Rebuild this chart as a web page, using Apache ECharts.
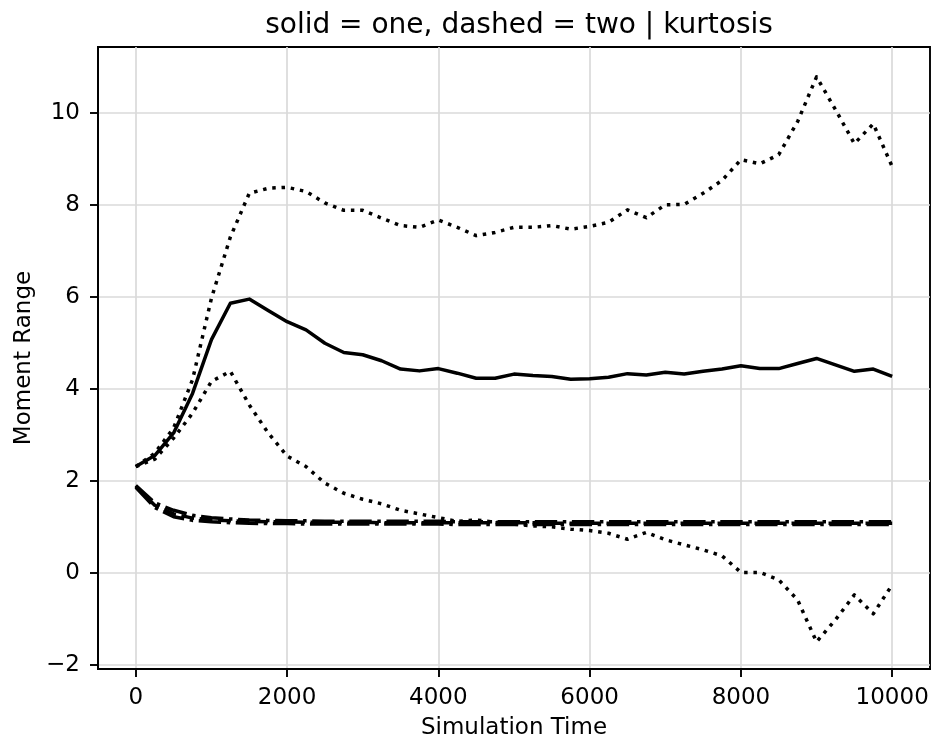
<!DOCTYPE html>
<html>
<head>
<meta charset="utf-8">
<script src="https://cdn.jsdelivr.net/npm/echarts@6/dist/echarts.min.js"></script>
<style>
html,body{margin:0;padding:0;background:#fff;}
#chart{width:931px;height:740px;}
</style>
</head>
<body>
<div id="chart"></div>
<script>
const times = [0,250,500,750,1000,1250,1500,1750,2000,2250,2500,2750,3000,3250,3500,3750,4000,4250,4500,4750,5000,5250,5500,5750,6000,6250,6500,6750,7000,7250,7500,7750,8000,8250,8500,8750,9000,9250,9500,9750,10000];

const oneMean = [2.31,2.55,3.04,3.90,5.07,5.86,5.95,5.70,5.46,5.28,4.99,4.79,4.74,4.61,4.43,4.39,4.44,4.34,4.23,4.23,4.32,4.29,4.27,4.21,4.22,4.25,4.33,4.30,4.36,4.32,4.38,4.43,4.50,4.44,4.44,4.55,4.66,4.52,4.38,4.43,4.27];
const oneUpper = [2.31,2.60,3.15,4.20,5.97,7.30,8.25,8.36,8.38,8.29,8.04,7.88,7.88,7.71,7.55,7.51,7.67,7.51,7.33,7.40,7.51,7.51,7.55,7.47,7.53,7.62,7.89,7.72,8.00,8.01,8.25,8.53,8.98,8.89,9.09,9.81,10.78,10.07,9.33,9.76,8.83];
const oneLower = [2.31,2.47,2.93,3.47,4.16,4.38,3.65,3.04,2.54,2.31,1.95,1.73,1.60,1.50,1.36,1.28,1.20,1.12,1.15,1.10,1.06,1.02,1.00,0.95,0.92,0.86,0.73,0.88,0.72,0.61,0.50,0.37,0.01,0.01,-0.15,-0.59,-1.50,-1.02,-0.48,-0.89,-0.26];

const twoMean = [1.88,1.47,1.28,1.19,1.15,1.13,1.12,1.11,1.11,1.10,1.10,1.10,1.10,1.09,1.09,1.09,1.09,1.09,1.09,1.09,1.09,1.09,1.08,1.08,1.08,1.08,1.08,1.08,1.08,1.08,1.08,1.08,1.08,1.08,1.08,1.08,1.08,1.08,1.08,1.08,1.08];
const twoUpper = [1.90,1.52,1.36,1.25,1.20,1.17,1.15,1.14,1.13,1.13,1.12,1.12,1.12,1.12,1.12,1.12,1.12,1.11,1.11,1.11,1.11,1.11,1.11,1.11,1.11,1.11,1.11,1.11,1.11,1.11,1.11,1.11,1.11,1.11,1.11,1.11,1.11,1.11,1.11,1.11,1.11];
const twoLower = [1.86,1.42,1.22,1.14,1.11,1.09,1.08,1.07,1.07,1.06,1.06,1.06,1.06,1.06,1.06,1.06,1.06,1.05,1.05,1.05,1.05,1.05,1.05,1.05,1.05,1.05,1.05,1.05,1.05,1.05,1.05,1.05,1.05,1.05,1.05,1.05,1.05,1.05,1.05,1.05,1.05];

const xTicks = [0,2000,4000,6000,8000,10000];
const yTicks = [-2,0,2,4,6,8,10];

const titleText = 'solid = one, dashed = two | kurtosis';
const xName = 'Simulation Time';
const yName = 'Moment Range';

function pairs(ys){ return times.map((t,i)=>[t, ys[i]]); }

const FONT = 'DejaVu Sans';
const LW = 3.5;
const dotted = [3.5, 5.8];
const dashed = [12.9, 5.6];
const dashdot = [22.4, 5.6, 3.5, 5.6];

function ser(name, ys, type, z){
  return {
    name: name, type: 'line', data: pairs(ys), showSymbol: false, symbol: 'none',
    z: z, silent: true,
    lineStyle: { color: '#000', width: LW, type: type, cap: 'butt', join: 'round' }
  };
}

const chart = echarts.init(document.getElementById('chart'), null, {renderer: 'canvas'});
const fmt = v => String(v).replace('-', '\u2212');
chart.setOption({
  animation: false,
  backgroundColor: '#fff',
  title: {
    text: titleText, left: 514, top: 7, textAlign: 'center',
    textStyle: { fontFamily: FONT, fontSize: 28, fontWeight: 'normal', color: '#000' }
  },
  grid: { left: 98, right: 1, top: 47, bottom: 71, show: true, borderColor: '#000', borderWidth: 1.9, containLabel: false, outerBoundsMode: 'none' },
  xAxis: {
    type: 'value', min: -500, max: 10500, minInterval: 2000, maxInterval: 2000,
    name: xName, nameLocation: 'middle', nameGap: 48,
    nameTextStyle: { fontFamily: FONT, fontSize: 23, color: '#000' },
    axisLine: { show: true, onZero: false, lineStyle: { color: '#000', width: 1.9 } },
    axisTick: { show: true, length: 8, lineStyle: { color: '#000', width: 1.9 }, customValues: xTicks },
    axisLabel: { fontFamily: FONT, fontSize: 23, color: '#000', margin: 18, customValues: xTicks, formatter: fmt },
    splitLine: { show: true, lineStyle: { color: '#dadada', width: 1.7 } }
  },
  yAxis: {
    type: 'value', min: -2.09, max: 11.43, minInterval: 2, maxInterval: 2,
    name: yName, nameLocation: 'middle', nameGap: 60, nameRotate: 90,
    nameTextStyle: { fontFamily: FONT, fontSize: 23, color: '#000' },
    axisLine: { show: true, onZero: false, lineStyle: { color: '#000', width: 1.9 } },
    axisTick: { show: true, length: 8, lineStyle: { color: '#000', width: 1.9 }, customValues: yTicks },
    axisLabel: { fontFamily: FONT, fontSize: 23, color: '#000', margin: 18, customValues: yTicks, formatter: fmt },
    splitLine: { show: true, lineStyle: { color: '#dadada', width: 1.7 } }
  },
  series: [
    ser('two lower', twoLower, dashdot, 2),
    ser('two upper', twoUpper, dashdot, 2),
    ser('two mean', twoMean, dashed, 3),
    ser('one lower', oneLower, dotted, 4),
    ser('one upper', oneUpper, dotted, 4),
    ser('one mean', oneMean, 'solid', 5)
  ]
});
</script>
</body>
</html>
